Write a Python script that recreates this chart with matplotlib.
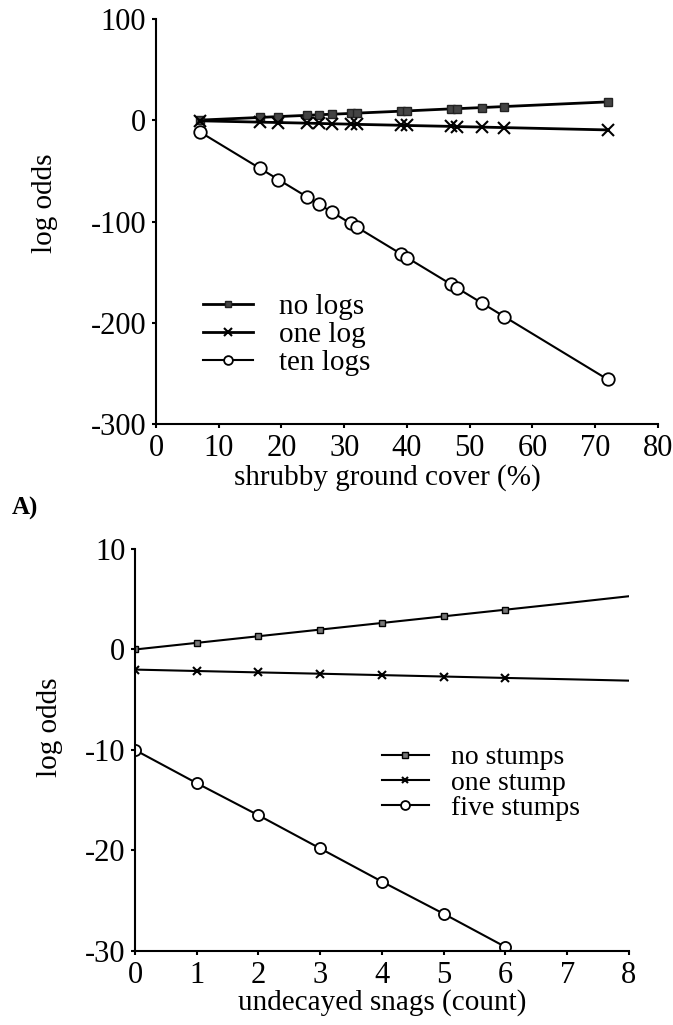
import matplotlib
matplotlib.use("Agg")
from matplotlib import pyplot as plt

plt.rcParams['font.family'] = ['Liberation Serif', 'DejaVu Serif']
plt.rcParams['axes.unicode_minus'] = False

# panel A: shrubby ground cover (%)
cover = [7, 16.5, 19.5, 24, 26, 28, 31, 32, 39, 40, 47, 48, 52, 55.5, 72]
no_logs = [0.2, 2.8, 3.7, 4.9, 5.5, 6.0, 6.8, 7.1, 9.0, 9.3, 11.3, 11.5, 12.6, 13.6, 18.2]
one_log = [-0.5, -1.8, -2.2, -2.8, -3.1, -3.4, -3.8, -4.0, -4.9, -5.1, -6.0, -6.2, -6.7, -7.2, -9.5]
ten_logs = [-11.5, -47.2, -58.5, -75.4, -83.0, -90.5, -101.8, -105.5, -131.8, -135.6,
            -161.9, -165.7, -180.7, -193.9, -256.0]
cover_ticks = [0, 10, 20, 30, 40, 50, 60, 70, 80]
odds_ticks_a = [-300, -200, -100, 0, 100]

# panel B: undecayed snags (count)
snags = [0, 1, 2, 3, 4, 5, 6, 7, 8]
no_stumps = [0, 0.66, 1.32, 1.98, 2.64, 3.3, 3.96, 4.62, 5.3]
one_stump = [-2.0, -2.14, -2.28, -2.41, -2.55, -2.69, -2.83, -2.96, -3.1]
five_stumps = [-10, -13.3, -16.5, -19.8, -23.1, -26.3, -29.6]
snag_ticks = [0, 1, 2, 3, 4, 5, 6, 7, 8]
odds_ticks_b = [-30, -20, -10, 0, 10]

fig = plt.figure(figsize=(6.73, 10.25), dpi=100)


def style_axes(ax):
    for side in ['top', 'right']:
        ax.spines[side].set_visible(False)
    for side in ['left', 'bottom']:
        ax.spines[side].set_linewidth(1.5)
    ax.tick_params(direction='out', length=3, width=1.5, labelsize=22, pad=4)


# top panel
ax1 = fig.add_axes([0.2318, 0.5863, 0.7459, 0.3951])
ax1.plot(cover, no_logs, color='black', lw=2, marker='s', ms=6,
         mfc='#444444', mec='#222222', label='no logs')
ax1.plot(cover, one_log, color='black', lw=2, marker='x', ms=8, mew=1.5,
         label='one log')
ax1.plot(cover, ten_logs, color='black', lw=1.5, marker='o', ms=9, mew=1.3,
         mfc='white', label='ten logs')
ax1.set_xlim(0, 80)
ax1.set_ylim(-300, 100)
ax1.set_xticks(cover_ticks)
ax1.set_yticks(odds_ticks_a)
style_axes(ax1)
ax1.set_xlabel('shrubby ground cover (%)', fontsize=21)
ax1.xaxis.set_label_coords(0.46, -0.1)
ax1.set_ylabel('log odds', fontsize=21, va='center')
ax1.yaxis.set_label_coords(-0.221, 0.546)
ax1.legend(loc='center left', bbox_to_anchor=(0.094, 0.22), frameon=False,
           fontsize=21, handlelength=1.7, handletextpad=0.9, labelspacing=0.05,
           borderpad=0, borderaxespad=0, markerscale=0.7)

fig.text(0.037, 1 - 508 / 1025, 'A)', fontsize=18, fontweight='bold',
         ha='center', va='center')

# bottom panel
ax2 = fig.add_axes([0.2006, 0.0722, 0.734, 0.3922])
ax2.plot(snags, no_stumps, color='black', lw=1.5, marker='s', ms=5,
         mfc='#777777', mec='black', markevery=slice(0, 7), label='no stumps')
ax2.plot(snags, one_stump, color='black', lw=1.5, marker='x', ms=6, mew=1.5,
         markevery=slice(0, 7), label='one stump')
ax2.plot(snags[:7], five_stumps, color='black', lw=1.5, marker='o', ms=8,
         mew=1.3, mfc='white', label='five stumps')
ax2.set_xlim(0, 8)
ax2.set_ylim(-30, 10)
ax2.set_xticks(snag_ticks)
ax2.set_yticks(odds_ticks_b)
style_axes(ax2)
ax2.set_xlabel('undecayed snags (count)', fontsize=21)
ax2.xaxis.set_label_coords(0.5, -0.095)
ax2.set_ylabel('log odds', fontsize=21, va='center')
ax2.yaxis.set_label_coords(-0.172, 0.557)
ax2.legend(loc='center left', bbox_to_anchor=(0.499, 0.418), frameon=False,
           fontsize=20, handlelength=1.7, handletextpad=0.8, labelspacing=0.0,
           borderpad=0, borderaxespad=0, markerscale=0.8)

fig.savefig('out.png', dpi=100)
